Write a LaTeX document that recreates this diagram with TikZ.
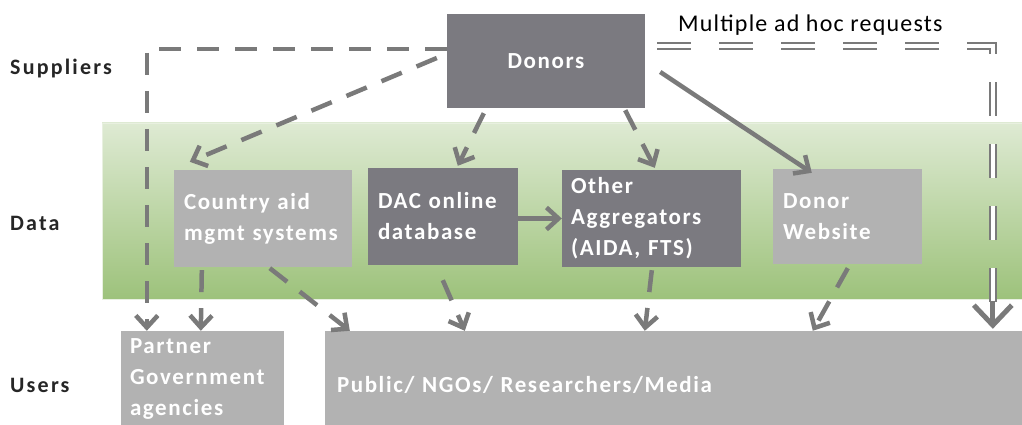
\documentclass[tikz,border=0pt]{standalone}
\usepackage{fontspec}
\setmainfont{Carlito}
\newfontfamily\boxfont{Carlito}[LetterSpace=7]
\newfontfamily\labfont{Carlito}[LetterSpace=10]
\newfontfamily\notefont{Carlito}[LetterSpace=5]
\usetikzlibrary{arrows.meta,calc}
\definecolor{darkbox}{HTML}{7B7A80}
\definecolor{lightbox}{HTML}{B2B2B2}
\definecolor{arrowc}{HTML}{7A7A7A}
\definecolor{gtop}{HTML}{DEEAD3}
\definecolor{gbot}{HTML}{9DC27B}
\tikzset{
  boxtxt/.style={font=\boxfont\bfseries\fontsize{23}{31}\selectfont, text=white},
  dbox/.style={boxtxt, rectangle, fill=darkbox, align=left, inner ysep=0pt},
  lbox/.style={boxtxt, rectangle, fill=lightbox, align=left, inner ysep=0pt},
  band/.style={rectangle, top color=gtop, bottom color=gbot, draw=gtop!70!white, line width=0.6pt},
  rowlab/.style={font=\labfont\bfseries\fontsize{22}{26}\selectfont, text=black!85, anchor=base west, inner sep=0pt},
  conn/.style={draw=arrowc, line width=4.5pt, -{Straight Barb[length=12pt,width=22pt]}},
  dsh/.style={dash pattern=on 22pt off 16pt},
  dbl/.style={draw=arrowc, line width=2pt, double=white, double distance=3.5pt, dash pattern=on 34pt off 28pt},
  bigarrow/.style={draw=arrowc, line width=5pt, -{Straight Barb[length=20pt,width=38pt]}}
}
\begin{document}
\begin{tikzpicture}[x=1pt,y=-1pt]
\useasboundingbox (0,0) rectangle (1022,425);
\clip (0,0) rectangle (1022,425);
\fill[white] (0,0) rectangle (1022,425);

% green data band
\node[band, minimum width=920pt, minimum height=176pt] (band) at (562,211) {};

% row labels
\node[rowlab] (lsup) at (10,75) {Suppliers};
\node[rowlab] (ldata) at (10,230) {Data};
\node[rowlab] (luser) at (10,392) {Users};

% boxes
\node[dbox, minimum width=198pt, minimum height=94pt, align=center] (donors) at (546,61) {Donors};
\node[lbox, minimum width=178pt, minimum height=97pt, text width=158pt, inner xsep=10pt] (country) at (263,218.5) {\mbox{Country aid}\\\mbox{mgmt systems}};
\node[dbox, minimum width=150pt, minimum height=97pt, text width=130pt, inner xsep=10pt] (dac) at (443,216.5) {\mbox{DAC online}\\database};
\node[dbox, minimum width=179pt, minimum height=97pt, text width=161pt, inner xsep=9pt] (other) at (651.5,218.5) {Other\\Aggregators\\\mbox{(AIDA, FTS)}};
\node[lbox, minimum width=149pt, minimum height=95pt, text width=129pt, inner xsep=10pt] (web) at (847.5,216.5) {Donor\\Website};
\node[lbox, minimum width=163pt, minimum height=96pt, text width=145pt, inner xsep=9pt] (partner) at (202.5,379) {Partner\\Government\\agencies};
\node[lbox, minimum width=720pt, minimum height=107pt, text width=696pt, inner xsep=12pt] (public) at (685,384.5) {\mbox{Public/ NGOs/ Researchers/Media}};

% note
\node[font=\notefont\fontsize{24}{28}\selectfont, anchor=base west, inner sep=0pt] (note) at (678,32) {Multiple ad hoc requests};

% connectors
\draw[conn,dsh] ($(donors.west)+(0,-12)$) -| ($(partner.north west)+(26,0)$);
\draw[conn,dsh] ($(donors.west)+(-10,-3)$) -- ($(country.north west)+(16,-8)$);
\draw[conn,dsh] ($(donors.south west)+(37,5)$) -- ($(dac.north west)+(90,-2)$);
\draw[conn,dsh] ($(donors.south east)+(-20,2)$) -- ($(other.north west)+(93,-2)$);
\draw[conn] ($(donors.east)+(15,11)$) -- ($(web.north west)+(39,4)$);
\draw[conn] (dac.east |- other.west) -- (other.west);

\draw[dbl] ($(donors.east)+(12,-15)$) -| ($(public.north west)+(668,-12)$);
\draw[bigarrow] ($(public.north west)+(668,-30)$) -- ($(public.north west)+(668,-2)$);

\draw[conn,dsh] ($(country.south west)+(28,3)$) -- ($(partner.north west)+(80,0)$);
\draw[conn,dsh] ($(country.south west)+(96,1)$) -- ($(public.north west)+(25,0)$);
\draw[conn,dsh] ($(dac.south west)+(75,15)$) -- ($(public.north west)+(140,0)$);
\draw[conn,dsh] ($(other.south west)+(90,3)$) -- ($(public.north west)+(320,0)$);
\draw[conn,dsh] ($(web.south west)+(75,4)$) -- ($(public.north west)+(488,0)$);
\end{tikzpicture}
\end{document}
